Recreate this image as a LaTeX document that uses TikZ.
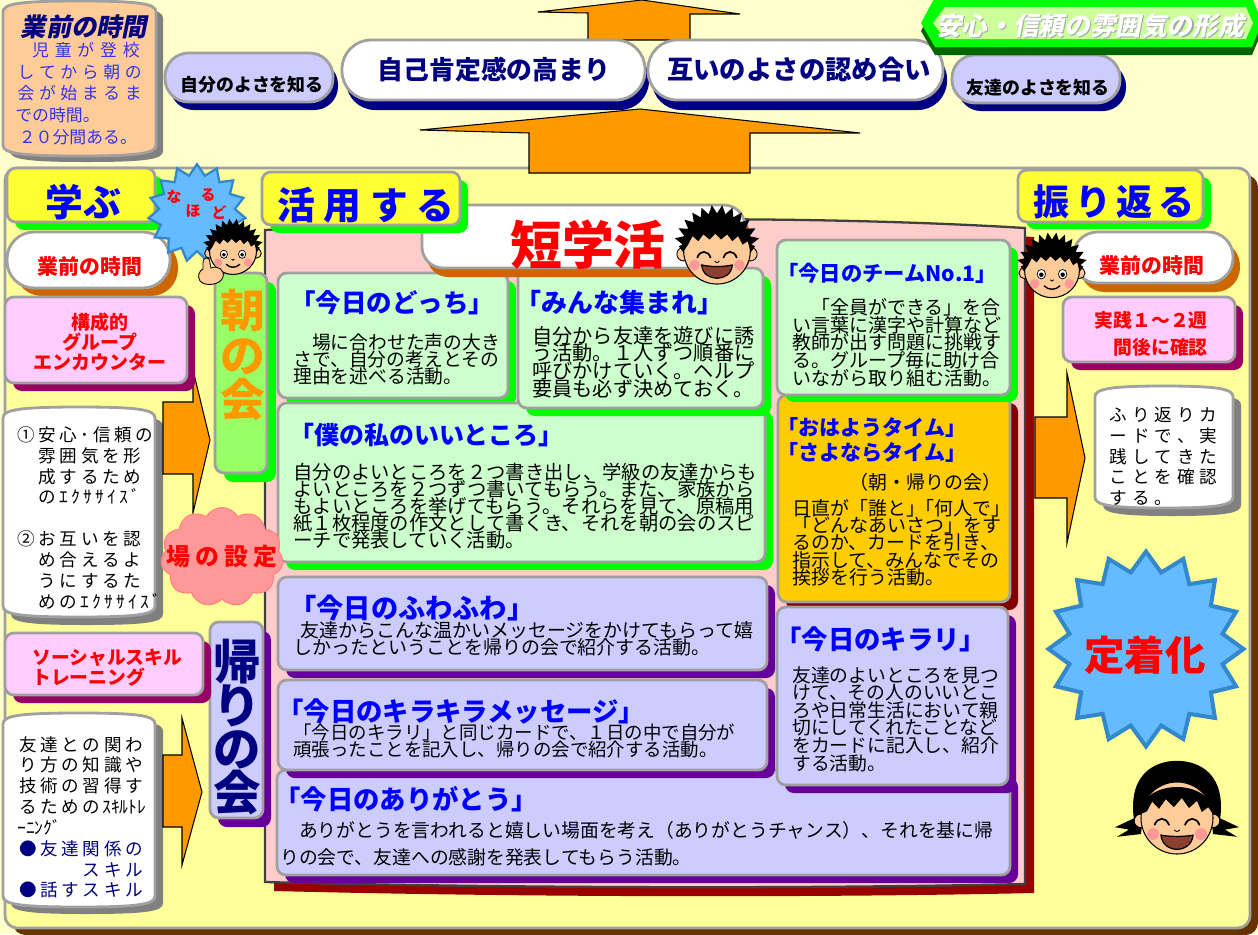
\documentclass[tikz,border=0pt]{standalone}
\usepackage{fontspec}
\setmainfont{Noto Sans CJK JP}
\newfontfamily\jpsl{Noto Sans CJK JP}[FakeSlant=0.2]
\usetikzlibrary{fit,shadows,shapes.geometric,shapes.symbols}

\definecolor{bgpale}{HTML}{FFFFCC}
\definecolor{panel}{HTML}{FFFF99}
\definecolor{bgray}{HTML}{A0A0A0}
\definecolor{brownsh}{HTML}{663300}
\definecolor{arrowor}{HTML}{FF9900}
\definecolor{peach}{HTML}{FFCC99}
\definecolor{lav}{HTML}{CCCCFF}
\definecolor{navyc}{HTML}{000080}
\definecolor{grn}{HTML}{00FF00}
\definecolor{dkgrn}{HTML}{006600}
\definecolor{ltgrn}{HTML}{CCFF99}
\definecolor{tabyel}{HTML}{FFFF33}
\definecolor{ochre}{HTML}{CC6600}
\definecolor{pinkbox}{HTML}{FFCCFF}
\definecolor{magsh}{HTML}{990066}
\definecolor{mint}{HTML}{CCFFCC}
\definecolor{amber}{HTML}{FFCC00}
\definecolor{maroonc}{HTML}{800000}
\definecolor{purp}{HTML}{660099}
\definecolor{rose}{HTML}{FFCCCC}
\definecolor{crim}{HTML}{990000}
\definecolor{limec}{HTML}{99FF66}
\definecolor{skyc}{HTML}{66BBFF}
\definecolor{skyedge}{HTML}{3388CC}
\definecolor{salmon}{HTML}{FF9999}
\definecolor{skin}{HTML}{FFCC99}
\definecolor{cheek}{HTML}{FF9999}
\definecolor{mouthc}{HTML}{8B4030}
\definecolor{shgray}{HTML}{808080}
\definecolor{leadblue}{HTML}{3333EE}
\definecolor{ttlblue}{HTML}{0000FF}
\definecolor{edgec}{HTML}{404040}

\newcommand\fs[2]{\fontsize{#1}{#2}\selectfont}

% fixed-pitch character cells
\newlength\gp
\newlength\gq
\makeatletter
\def\gr@stop{\gr@stop}
\def\gr@loop#1{\ifx\gr@stop#1\else\hbox to\gp{\hss#1\hss}\expandafter\gr@loop\fi}
\def\gh@loop#1{\ifx\gr@stop#1\else\hbox to\gq{\hss#1\hss}\expandafter\gh@loop\fi}
\newcommand\g[1]{\gr@loop#1\gr@stop}
\newcommand\gh[1]{\gh@loop#1\gr@stop}
\newcommand\gw[2]{{\gp=#1\relax\gr@loop#2\gr@stop}}
\makeatother

% barrel-shaped note card
\newcommand\scrollpath[4]{(#1,#2+11) .. controls (#1,#2+3) and (#1+14,#2) .. ({(#1+#3)/2},#2) .. controls (#3-14,#2) and (#3,#2+3) .. (#3,#2+11) -- (#3,#4-11) .. controls (#3,#4-3) and (#3-14,#4) .. ({(#1+#3)/2},#4) .. controls (#1+14,#4) and (#1,#4-3) .. (#1,#4-11) -- cycle}

% outline of the short-homeroom sheet
\def\sheetpath{(265,230) .. controls (450,221) and (760,212) .. (1025,228) -- (1025,884) .. controls (800,889) and (500,888) .. (265,882) -- cycle}

% spiky boy hair: a ring of small spikes over the crown, with a ragged fringe
\def\boyhair{(-1.0,0.12) -- (-1.12,-0.05) \foreach \a in {186,200,...,340} {-- (\a:1.02) -- (\a+7:1.27)} -- (354:1.02) -- (1.12,-0.05) -- (1.0,0.12) -- (0.9,-0.2) -- (0.75,-0.1) -- (0.62,-0.35) -- (0.45,-0.2) -- (0.3,-0.4) -- (0.12,-0.25) -- (-0.05,-0.42) -- (-0.22,-0.25) -- (-0.4,-0.4) -- (-0.55,-0.2) -- (-0.72,-0.35) -- (-0.85,-0.1) -- cycle}

\tikzset{
  boyface/.pic={
    \filldraw[fill=skin, draw=black, line width=0.5pt] (-0.98,0.18) circle (0.2) (0.98,0.18) circle (0.2);
    \filldraw[fill=skin, draw=black, line width=0.6pt] (0,0.08) circle (0.98);
    \fill[black] \boyhair;
    \filldraw[fill=white, draw=black, line width=0.4pt] (-0.38,0.22) ellipse (0.15 and 0.17) (0.38,0.22) ellipse (0.15 and 0.17);
    \fill[black] (-0.38,0.24) circle (0.08) (0.38,0.24) circle (0.08);
    \fill[cheek] (-0.62,0.56) circle (0.17) (0.62,0.56) circle (0.17);
    \draw[line width=0.5pt] (-0.06,0.42) .. controls (0,0.48) .. (0.06,0.42);
    \draw[line width=0.8pt, line cap=round] (-0.28,0.64) .. controls (-0.12,0.8) and (0.12,0.8) .. (0.28,0.64);
  },
  laughface/.pic={
    \filldraw[fill=skin, draw=black, line width=0.5pt] (-0.98,0.18) circle (0.2) (0.98,0.18) circle (0.2);
    \filldraw[fill=skin, draw=black, line width=0.6pt] (0,0.08) circle (0.98);
    \fill[black] \boyhair;
    \draw[line width=1pt, line cap=round] (-0.58,0.28) .. controls (-0.5,0.06) and (-0.27,0.06) .. (-0.19,0.28);
    \draw[line width=1pt, line cap=round] (0.19,0.28) .. controls (0.27,0.06) and (0.5,0.06) .. (0.58,0.28);
    \fill[cheek] (-0.66,0.5) circle (0.16) (0.66,0.5) circle (0.16);
    \draw[line width=0.5pt] (-0.07,0.38) .. controls (0,0.45) .. (0.07,0.38);
    \filldraw[fill=mouthc, draw=black, line width=0.7pt] (-0.45,0.5) .. controls (-0.15,0.56) and (0.15,0.56) .. (0.45,0.5) .. controls (0.42,1.02) and (-0.42,1.02) .. cycle;
  },
  girlface/.pic={
    \fill[black] (-1.05,0.35) .. controls (-1.3,-0.95) and (-0.55,-1.28) .. (0,-1.28) .. controls (0.55,-1.28) and (1.3,-0.95) .. (1.05,0.35) -- cycle;
    \fill[black] (0.85,0.05) -- (1.55,0.38) -- (1.2,0.44) -- (1.5,0.62) -- (0.9,0.55) -- cycle;
    \fill[black] (-0.85,0.05) -- (-1.55,0.38) -- (-1.2,0.44) -- (-1.5,0.62) -- (-0.9,0.55) -- cycle;
    \filldraw[fill=skin, draw=black, line width=0.5pt] (-0.9,0.22) circle (0.17) (0.9,0.22) circle (0.17);
    \filldraw[fill=skin, draw=black, line width=0.6pt] (0,0.15) ellipse (0.9 and 0.9);
    \fill[black] (-0.9,0.05) .. controls (-0.9,-0.85) and (0.9,-0.85) .. (0.9,0.05) -- (0.78,-0.12) -- (0.62,0.0) -- (0.5,-0.28) -- (0.3,-0.1) -- (0.12,-0.35) -- (-0.08,-0.12) -- (-0.28,-0.32) -- (-0.45,-0.08) -- (-0.62,-0.26) -- (-0.75,-0.02) -- cycle;
    \draw[line width=1pt, line cap=round] (-0.56,0.32) .. controls (-0.48,0.12) and (-0.28,0.12) .. (-0.2,0.32);
    \draw[line width=1pt, line cap=round] (0.2,0.32) .. controls (0.28,0.12) and (0.48,0.12) .. (0.56,0.32);
    \fill[cheek] (-0.6,0.55) circle (0.15) (0.6,0.55) circle (0.15);
    \draw[line width=0.5pt] (-0.07,0.45) .. controls (0,0.5) .. (0.07,0.45);
    \filldraw[fill=mouthc, draw=black, line width=0.7pt] (-0.4,0.58) .. controls (-0.15,0.62) and (0.15,0.62) .. (0.4,0.58) .. controls (0.36,1.05) and (-0.36,1.05) .. cycle;
  }
}

\begin{document}
\lineskiplimit=-100pt\relax
\begin{tikzpicture}[x=0.02cm, y=-0.02cm,
  frame/.style={draw=bgray, line width=1.6pt, rounded corners=5pt, inner sep=0pt},
  sh/.style args={#1/#2/#3}{drop shadow={shadow xshift=#2, shadow yshift=-#3, fill=#1, opacity=1}},
  blockarrow/.style={fill=arrowor, draw=black, line width=0.6pt, line join=miter},
  txt/.style={inner sep=0pt, anchor=north west, align=left},
  lbl/.style={inner sep=0pt, align=center},
  ttl/.style={txt, text=ttlblue, font=\bfseries\fs{#1}{#1}},
  body/.style={txt, font=\fs{10.8pt}{9.9pt}}
]
\useasboundingbox (0,0) rectangle (1258,934);
\fill[bgpale] (0,0) rectangle (1258,934);

% main board
\node[frame, fill=panel, rounded corners=7pt, sh=brownsh/0.16cm/0.14cm, fit={(5,168) (1250,928)}] (board) {};

% rising arrows
\filldraw[blockarrow] (588,40) -- (588,13) -- (538,12) -- (642,0) -- (740,14) -- (690,14) -- (690,40) -- cycle;
\filldraw[blockarrow] (529,173) -- (529,133) -- (420,130) -- (640,109) -- (860,133) -- (750,133) -- (750,173) -- cycle;

% lead card
\fill[shgray, shift={(7,6)}] \scrollpath{3}{1}{156}{156};
\filldraw[fill=peach, draw=bgray, line width=1.6pt] \scrollpath{3}{1}{156}{156};
\node[font={\jpsl\bfseries\fs{14.4pt}{15pt}}, text=navyc, inner sep=0pt] (lead-h) at (84,27) {業前の時間};
\node[txt, font={\fs{9.6pt}{12.3pt}\global\gp=12.2pt}, text=leadblue] (lead-t) at (15,42)
  {\hspace*{7.9pt}\gw{12.9pt}{児童が登校}\\\g{してから朝の}\\\g{会が始まるま}\\での時間。\\\hspace*{2pt}２０分間ある。};

% goal pills
\node[frame, fill=lav, rounded corners=0.47cm, sh=navyc/0.1cm/0.16cm, fit={(165,53) (333,102)}] (selfpill) {};
\node[font=\bfseries\fs{10.2pt}{11pt}, inner sep=0pt] (selfpill-t) at (252,85) {自分のよさを知る};
\node[frame, fill=white, rounded corners=0.58cm, sh=navyc/0.08cm/0.2cm, fit={(342,40) (645,100)}] (esteempill) {};
\node[font=\bfseries\fs{14.7pt}{15pt}, text=navyc, inner sep=0pt] (esteempill-t) at (494,70) {自己肯定感の高まり};
\node[frame, fill=white, rounded corners=0.58cm, sh=navyc/0.08cm/0.2cm, fit={(648,40) (943,100)}] (mutualpill) {};
\node[font=\bfseries\fs{15pt}{15pt}, text=navyc, inner sep=0pt] (mutualpill-t) at (799,70) {互いのよさの認め合い};
\node[frame, fill=lav, rounded corners=0.46cm, sh=navyc/0.12cm/0.16cm, fit={(952,55) (1120,103)}] (friendpill) {};
\node[font=\bfseries\fs{10.2pt}{11pt}, inner sep=0pt] (friendpill-t) at (1038,88) {友達のよさを知る};

% banner
\fill[dkgrn] (935,5) -- (921,31) -- (935,55) -- (1252,55) -- (1262,31) -- (1252,5) -- cycle;
\fill[grn] (935,-3) -- (921,23) -- (935,47) -- (1252,47) -- (1262,23) -- (1252,-3) -- cycle;
\fill[ltgrn] (945,7) -- (933,23) -- (945,39) -- (1246,39) -- (1253,23) -- (1246,7) -- cycle;
\node[font={\jpsl\bfseries\fs{14.6pt}{15pt}}, text=black!35, inner sep=0pt] (banner-s) at (1091.2,27.2) {安心・信頼の雰囲気の形成};
\node[font={\jpsl\bfseries\fs{14.6pt}{15pt}}, text=white, inner sep=0pt] (banner-t) at (1090,26) {安心・信頼の雰囲気の形成};

% short homeroom sheet
\fill[crim, shift={(9,9)}] \sheetpath;
\filldraw[fill=rose, draw=edgec, line width=1.3pt] \sheetpath;

% activity cards
\node[frame, fill=mint, sh=grn/0.16cm/0.16cm, fit={(278,273) (508,398)}] (dotchi) {};
\node[frame, fill=mint, sh=grn/0.16cm/0.16cm, fit={(278,403) (765,562)}] (boku) {};
\node[frame, fill=mint, sh=grn/0.16cm/0.16cm, fit={(518,268) (763,408)}] (minna) {};
\node[frame, fill=amber, sh=maroonc/0.16cm/0.16cm, fit={(778,395) (1010,602)}] (ohayo) {};
\node[frame, fill=mint, sh=grn/0.16cm/0.14cm, fit={(777,240) (1010,395)}] (team) {};
\node[frame, fill=lav, sh=purp/0.16cm/0.16cm, fit={(277,770) (1010,875)}] (arigato) {};
\node[frame, fill=lav, sh=purp/0.16cm/0.16cm, fit={(278,577) (767,670)}] (fuwa) {};
\node[frame, fill=lav, sh=purp/0.16cm/0.16cm, fit={(278,680) (767,770)}] (kirakira) {};
\node[frame, fill=lav, sh=purp/0.16cm/0.16cm, fit={(777,607) (1008,785)}] (kirari) {};

\node[ttl=14.5pt] (dotchi-h) at (290,290) {「今日のどっち」};
\node[body, font=\fs{10.7pt}{9.9pt}] (dotchi-t) at (293,333) {　場に合わせた声の大き\\さで、自分の考えとその\\理由を述べる活動。};
\node[ttl=14.8pt] (minna-h) at (515,290) {「みんな集まれ」};
\node[body, font=\fs{11.5pt}{10pt}] (minna-t) at (532,326) {自分から友達を遊びに誘\\う活動。１人ずつ順番に\\呼びかけていく。ヘルプ\\要員も必ず決めておく。};
\node[ttl=12.1pt] (team-h) at (777,263) {「今日のチームNo.1」};
\node[body, font=\fs{10.8pt}{10.1pt}] (team-t) at (792,298) {　「全員ができる」を合\\い言葉に漢字や計算など\\教師が出す問題に挑戦す\\る。グループ毎に助け合\\いながら取り組む活動。};
\node[ttl=14.2pt] (boku-h) at (289,423) {「僕の私のいいところ」};
\node[body, font=\fs{11pt}{9.65pt}] (boku-t) at (293,463) {自分のよいところを２つ書き出し、学級の友達からも\\よいところを２つずつ書いてもらう。また、家族から\\もよいところを挙げてもらう。それらを見て、原稿用\\紙１枚程度の作文として書くき、それを朝の会のスピ\\ーチで発表していく活動。};
\node[txt, text=ttlblue, font=\bfseries\fs{12pt}{14.2pt}] (ohayo-h) at (777,417) {「おはようタイム」\\「さよならタイム」};
\node[inner sep=0pt, anchor=north east, font=\fs{10.8pt}{10pt}] (ohayo-n) at (1002,473) {（朝・帰りの会）};
\node[body, font=\fs{10.8pt}{9.8pt}] (ohayo-t) at (792,499) {日直が「誰と」\kern-0.5em「何人で」\\「どんなあいさつ」をす\\るのか、カードを引き、\\指示して、みんなでその\\挨拶を行う活動。};
\node[ttl=15pt] (kirari-h) at (775,626) {「今日のキラリ」};
\node[body, font=\fs{10.7pt}{10pt}] (kirari-t) at (792,666) {友達のよいところを見つ\\けて、その人のいいとこ\\ろや日常生活において親\\切にしてくれたことなど\\をカードに記入し、紹介\\する活動。};
\node[ttl=15.5pt] (fuwa-h) at (289,595) {「今日のふわふわ」};
\node[body, font=\fs{10.8pt}{9.65pt}] (fuwa-t) at (293,621) {\hspace*{4pt}友達からこんな温かいメッセージをかけてもらって嬉\\しかったということを帰りの会で紹介する活動。};
\node[ttl=15pt] (kirakira-h) at (277,698) {「今日のキラキラメッセージ」};
\node[body, font=\fs{10.5pt}{9.65pt}] (kirakira-t) at (293,724) {「今日のキラリ」と同じカードで、１日の中で自分が\\頑張ったことを記入し、帰りの会で紹介する活動。};
\node[ttl=15pt] (arigato-h) at (274,786) {「今日のありがとう」};
\node[body, font=\fs{10.7pt}{15.3pt}] (arigato-t) at (280,821) {　ありがとうを言われると嬉しい場面を考え（ありがとうチャンス）、それを基に帰\\りの会で、友達への感謝を発表してもらう活動。};

% title tab of the sheet
\node[frame, fill=white, rounded corners=12pt, sh=ochre/0.1cm/0.18cm, fit={(422,205) (745,268)}] (tanbox) {};
\node[font=\bfseries\fs{29.5pt}{30pt}, text=red, inner sep=0pt] (tanbox-t) at (588,245) {短学活};

% left column: learn
\node[frame, fill=tabyel, sh=grn/0.16cm/0.16cm, fit={(7,168) (155,222)}] (learntab) {};
\node[font=\bfseries\fs{21.5pt}{22pt}, text=ttlblue, inner sep=0pt] (learntab-t) at (83,202) {学ぶ};
\node[frame, fill=white, rounded corners=0.54cm, sh=ochre/0.16cm/0.16cm, fit={(7,232) (170,288)}] (premorning) {};
\node[font=\bfseries\fs{11.9pt}{12pt}, text=red, inner sep=0pt] (premorning-t) at (90,267) {業前の時間};

\fill[shgray, shift={(8,8)}] \scrollpath{3}{407}{155}{617};
\filldraw[fill=white, draw=bgray, line width=1.6pt] \scrollpath{3}{407}{155}{617};
\node[txt, font={\fs{10pt}{11.9pt}\global\gp=12.13pt\global\gq=6.8pt}] (ex-t) at (15,426)
  {\g{①安心}\gh{･}\g{信頼の}\\\g{　雰囲気を形}\\\g{　成するため}\\\g{　の}\gh{ｴｸｻｻｲｽﾞ}\\[11.9pt]\g{②お互いを認}\\\g{　め合えるよ}\\\g{　うにするた}\\\g{　めの}\gh{ｴｸｻｻｲｽﾞ}};
\filldraw[blockarrow] (163,402) -- (193,402) -- (193,370) -- (210,440) -- (193,513) -- (193,474) -- (163,474) -- cycle;

\node[frame, fill=pinkbox, sh=magsh/0.16cm/0.16cm, fit={(5,297) (187,383)}] (sge) {};
\node[lbl, font=\bfseries\fs{10.8pt}{11.3pt}, text=red] (sge-t) at (100,342) {構成的\\グループ\\エンカウンター};

\node[frame, fill=limec, sh=grn/0.18cm/0.18cm, fit={(215,273) (267,473)}] (asa) {};
\node[lbl, font=\bfseries\fs{25.5pt}{25.5pt}, text=arrowor] (asa-t) at (243,355) {朝\\の\\会};

\node[frame, fill=lav, sh=purp/0.16cm/0.18cm, fit={(210,622) (263,818)}] (kaeri) {};
\node[lbl, font=\bfseries\fs{27pt}{25pt}, text=navyc] (kaeri-t) at (237,727) {帰\\り\\の\\会};

\node[frame, fill=pinkbox, sh=magsh/0.16cm/0.16cm, fit={(5,633) (203,695)}] (sst) {};
\node[txt, font=\bfseries\fs{10.7pt}{11.3pt}, text=red] (sst-t) at (32,649) {ソーシャルスキル\\トレーニング};

\fill[shgray, shift={(8,7)}] \scrollpath{3}{713}{155}{907};
\filldraw[fill=white, draw=bgray, line width=1.6pt] \scrollpath{3}{713}{155}{907};
\node[txt, font={\fs{10pt}{11.85pt}\global\gp=12.1pt}] (skill-t) at (17,736)
  {\g{友達との関わ}\\\g{り方の知識や}\\\g{技術の習得す}\\\g{るための}ｽｷﾙﾄﾚ\\ｰﾆﾝｸﾞ\\\textcolor{navyc}{\g{●友達関係の}}\\\textcolor{navyc}{\g{　　　スキル}}\\\textcolor{navyc}{\g{●話すスキル}}};
\filldraw[blockarrow] (163,755) -- (182,755) -- (182,718) -- (202,792) -- (182,865) -- (182,827) -- (163,827) -- cycle;

\node[cloud, cloud puffs=11, cloud puff arc=120, aspect=1.25, minimum width=2.45cm, minimum height=1.98cm, fill=salmon, draw=salmon!85!red, line width=0.6pt] (stage) at (222,557) {};
\node[lbl, font={\bfseries\fs{13.6pt}{14pt}\global\gp=16.4pt}, text=red] (stage-t) at (222,557) {\g{場の設定}};

% middle tab
\node[frame, fill=tabyel, sh=grn/0.16cm/0.16cm, fit={(262,172) (460,225)}] (usetab) {};
\node[lbl, font={\bfseries\fs{21.5pt}{22pt}\global\gp=26.4pt}, text=ttlblue] (usetab-t) at (366,205) {\g{活用する}};

% right column: reflect
\node[frame, fill=tabyel, sh=grn/0.16cm/0.14cm, fit={(1018,170) (1203,222)}] (looktab) {};
\node[lbl, font={\bfseries\fs{20.5pt}{21pt}\global\gp=23.8pt}, text=ttlblue] (looktab-t) at (1114,202) {\g{振り返る}};
\node[frame, fill=white, rounded corners=0.49cm, sh=ochre/0.14cm/0.18cm, fit={(1073,232) (1233,283)}] (premorning2) {};
\node[font=\bfseries\fs{11.9pt}{12pt}, text=red, inner sep=0pt] (premorning2-t) at (1152,266) {業前の時間};
\node[frame, fill=pinkbox, sh=magsh/0.16cm/0.16cm, fit={(1063,297) (1235,362)}] (confirm) {};
\node[inner sep=0pt, anchor=north east, align=right, font=\bfseries\fs{10.7pt}{15.3pt}, text=red] (confirm-t) at (1208,311) {実践１～２週\\間後に確認};
\filldraw[blockarrow] (1035,417) -- (1067,417) -- (1067,373) -- (1085,458) -- (1067,543) -- (1067,498) -- (1035,498) -- cycle;
\fill[shgray, shift={(8,8)}] \scrollpath{1095}{386}{1233}{508};
\filldraw[fill=white, draw=bgray, line width=1.6pt] \scrollpath{1095}{386}{1233}{508};
\node[txt, font={\fs{10pt}{11.8pt}\global\gp=12.8pt}] (card-t) at (1107,407) {\g{ふり返りカ}\\\g{ードで、実}\\\g{践してきた}\\\g{ことを確認}\\\g{する。}};

\node[star, star points=16, star point ratio=1.25, minimum size=3.9cm, fill=skyc, draw=skyedge, line width=2.3pt] (settle) at (1146,649) {};
\node[font=\bfseries\fs{23pt}{23pt}, text=red, inner sep=0pt] (settle-t) at (1145,655) {定着化};

% "naruhodo" burst
\node[star, star points=15, star point ratio=1.28, minimum size=1.95cm, fill=skyc, draw=skyedge, line width=1.3pt] (aha) at (197,213) {};
\node[font=\bfseries\fs{8.5pt}{9pt}, text=red, inner sep=0pt] (aha-1) at (174,197) {な};
\node[font=\bfseries\fs{8.5pt}{9pt}, text=red, inner sep=0pt] (aha-2) at (208,195) {る};
\node[font=\bfseries\fs{8.5pt}{9pt}, text=red, inner sep=0pt] (aha-3) at (193,211) {ほ};
\node[font=\bfseries\fs{8.5pt}{9pt}, text=red, inner sep=0pt] (aha-4) at (219,213) {ど};

% faces
\pic[scale=24] (boyA) at (233,249) {boyface};
\filldraw[fill=skin, draw=black, line width=0.5pt] (203,263) .. controls (203,256) and (210,256) .. (210,263) -- (211,268) .. controls (218,265) and (225,270) .. (223,277) .. controls (221,285) and (205,287) .. (200,281) .. controls (197,276) and (199,271) .. (203,269) -- cycle;
\pic[scale=34] (boyB) at (717,248) {laughface};
\pic[scale=28] (boyC) at (1052,268) {boyface};
\pic[scale=40] (girl) at (1177,812) {girlface};
\end{tikzpicture}
\end{document}
